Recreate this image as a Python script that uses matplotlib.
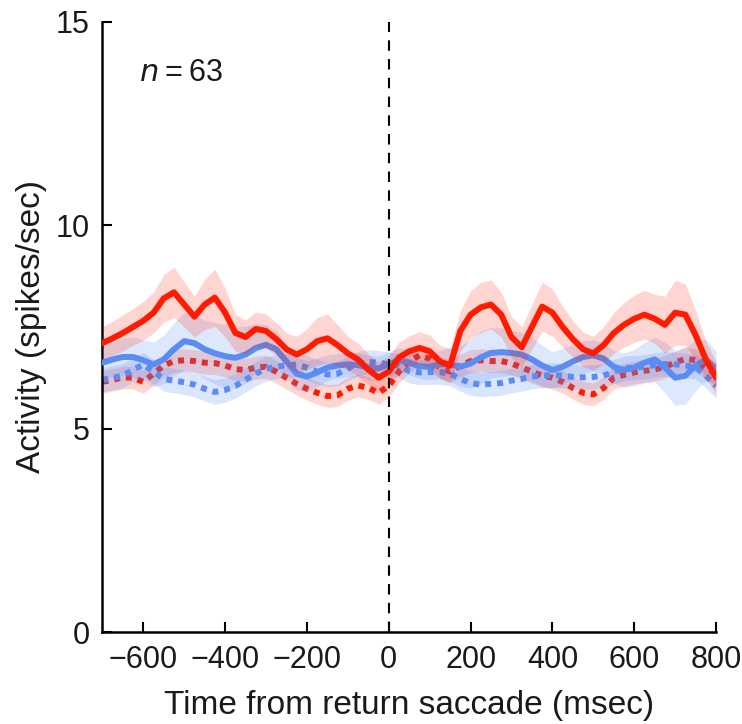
import numpy as np
import matplotlib.pyplot as plt

plt.rcParams['font.family'] = ['Liberation Sans', 'DejaVu Sans']

# time axis (msec), 25 ms bins
time_ms = np.arange(-700, 801, 25)

# solid red: mean firing rate and sem
red_solid = [7.10, 7.22, 7.35, 7.50, 7.65, 7.85, 8.20, 8.35, 8.05, 7.75,
             8.05, 8.22, 7.85, 7.35, 7.25, 7.45, 7.40, 7.20, 6.95, 6.82,
             6.95, 7.15, 7.22, 7.05, 6.85, 6.70, 6.45, 6.25, 6.40, 6.75,
             6.90, 6.98, 6.90, 6.65, 6.55, 7.40, 7.80, 7.98, 8.05, 7.80,
             7.25, 7.00, 7.50, 8.00, 7.85, 7.50, 7.20, 6.95, 6.85, 7.05,
             7.35, 7.55, 7.70, 7.80, 7.70, 7.55, 7.85, 7.80, 7.30, 6.70,
             6.25]
red_solid_sem = [0.40, 0.42, 0.45, 0.45, 0.48, 0.50, 0.58, 0.62, 0.55, 0.50,
                 0.62, 0.70, 0.60, 0.45, 0.42, 0.42, 0.42, 0.40, 0.40, 0.45,
                 0.50, 0.58, 0.60, 0.50, 0.42, 0.40, 0.38, 0.38, 0.38, 0.38,
                 0.38, 0.40, 0.40, 0.40, 0.42, 0.50, 0.58, 0.62, 0.60, 0.55,
                 0.50, 0.50, 0.55, 0.60, 0.58, 0.50, 0.45, 0.42, 0.42, 0.45,
                 0.50, 0.55, 0.58, 0.60, 0.60, 0.70, 0.80, 0.75, 0.60, 0.45,
                 0.40]

# solid blue
blue_solid = [6.62, 6.70, 6.76, 6.76, 6.68, 6.58, 6.70, 6.95, 7.15, 7.10,
              6.95, 6.85, 6.78, 6.74, 6.82, 6.98, 7.06, 6.95, 6.65, 6.35,
              6.28, 6.38, 6.50, 6.55, 6.58, 6.56, 6.50, 6.48, 6.58, 6.69,
              6.62, 6.53, 6.52, 6.58, 6.58, 6.52, 6.60, 6.75, 6.86, 6.88,
              6.86, 6.82, 6.70, 6.55, 6.44, 6.52, 6.65, 6.76, 6.80, 6.72,
              6.52, 6.44, 6.50, 6.62, 6.70, 6.50, 6.25, 6.30, 6.55, 6.70,
              6.45]
blue_solid_sem = [0.40, 0.42, 0.45, 0.50, 0.50, 0.55, 0.60, 0.65, 0.70, 0.70,
                  0.72, 0.75, 0.78, 0.75, 0.70, 0.60, 0.50, 0.45, 0.42, 0.40,
                  0.38, 0.35, 0.32, 0.30, 0.30, 0.30, 0.30, 0.30, 0.30, 0.30,
                  0.30, 0.30, 0.32, 0.35, 0.40, 0.50, 0.60, 0.65, 0.62, 0.60,
                  0.55, 0.55, 0.55, 0.50, 0.45, 0.45, 0.42, 0.40, 0.38, 0.38,
                  0.40, 0.42, 0.45, 0.50, 0.55, 0.62, 0.68, 0.70, 0.62, 0.50,
                  0.45]

# dotted red
red_dotted = [6.15, 6.20, 6.26, 6.25, 6.15, 6.35, 6.55, 6.66, 6.68, 6.66,
              6.62, 6.61, 6.55, 6.46, 6.44, 6.50, 6.52, 6.40, 6.25, 6.10,
              5.98, 5.88, 5.80, 5.82, 5.98, 6.06, 6.00, 5.88, 6.05, 6.40,
              6.65, 6.80, 6.72, 6.50, 6.40, 6.55, 6.66, 6.68, 6.66, 6.66,
              6.60, 6.50, 6.40, 6.30, 6.25, 6.15, 6.00, 5.88, 5.84, 6.00,
              6.25, 6.32, 6.38, 6.42, 6.45, 6.52, 6.62, 6.72, 6.68, 6.50,
              6.35]
red_dotted_sem = [0.28] * 61

# dotted blue
blue_dotted = [6.20, 6.25, 6.30, 6.45, 6.57, 6.40, 6.22, 6.18, 6.14, 6.08,
               5.98, 5.90, 5.95, 6.05, 6.20, 6.35, 6.47, 6.52, 6.56, 6.57,
               6.50, 6.40, 6.33, 6.35, 6.48, 6.60, 6.64, 6.62, 6.58, 6.55,
               6.42, 6.38, 6.39, 6.39, 6.35, 6.22, 6.12, 6.08, 6.10, 6.12,
               6.18, 6.22, 6.28, 6.30, 6.32, 6.30, 6.27, 6.26, 6.27, 6.30,
               6.40, 6.48, 6.50, 6.52, 6.56, 6.59, 6.58, 6.55, 6.52, 6.30,
               6.05]
blue_dotted_sem = [0.30] * 61

RED = '#ff1a00'
BLUE = '#5b8cf2'


def draw(ax, y, sem, color, ls, z, alpha):
    y = np.array(y)
    sem = np.array(sem)
    ax.fill_between(time_ms, y - sem, y + sem, color=color, alpha=alpha,
                    lw=0, zorder=z)
    ax.plot(time_ms, y, color=color, lw=4.3, ls=ls, zorder=z + 0.5,
            dash_capstyle='butt', solid_capstyle='round',
            solid_joinstyle='round')


fig = plt.figure(figsize=(7.42, 7.24), dpi=100)
ax = fig.add_axes([0.138, 0.127, 0.827, 0.843])

draw(ax, red_dotted, red_dotted_sem, RED, (0, (1, 1)), 1, 0.18)
draw(ax, blue_dotted, blue_dotted_sem, BLUE, (0, (1, 1)), 2, 0.22)
draw(ax, blue_solid, blue_solid_sem, BLUE, '-', 3, 0.2)
draw(ax, red_solid, red_solid_sem, RED, '-', 4, 0.18)

ax.axvline(0, color='black', lw=1.5, ls=(0, (5, 4)), zorder=5)

ax.text(-610, 13.75, r'$n$' + '\u2009=\u200963', fontsize=22,
        va='center', ha='left', color='#1a1a1a')

ax.set_xlim(-700, 800)
ax.set_ylim(0, 15)
ax.set_xticks([-600, -400, -200, 0, 200, 400, 600, 800])
ax.set_xticklabels(['\u2212600', '\u2212400', '\u2212200', '0', '200',
                    '400', '600', '800'])
ax.set_yticks([0, 5, 10, 15])
ax.tick_params(direction='in', length=7, width=1.5, labelsize=22, pad=9,
               labelcolor='#1a1a1a')
for side in ['top', 'right']:
    ax.spines[side].set_visible(False)
for side in ['left', 'bottom']:
    ax.spines[side].set_linewidth(1.8)

ax.set_xlabel('Time from return saccade (msec)', fontsize=24, labelpad=11,
              color='#1a1a1a')
ax.set_ylabel('Activity (spikes/sec)', fontsize=24, labelpad=6,
              color='#1a1a1a')

fig.savefig('out.png', dpi=100)
